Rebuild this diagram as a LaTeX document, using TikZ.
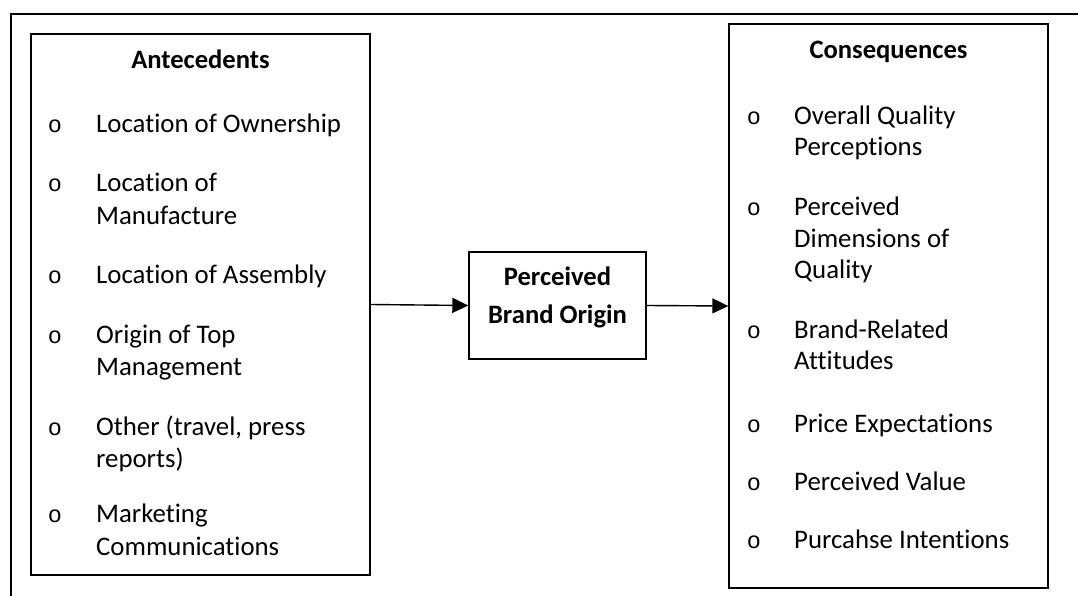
\documentclass[tikz,border=0pt]{standalone}
\usepackage{fontspec}
\setmainfont{Carlito}[Ligatures=CommonOff]
\newfontfamily\bulletfamily{Liberation Mono}
\usetikzlibrary{arrows.meta}

\begin{document}
\begin{tikzpicture}[x=1pt, y=-1pt,
  box/.style={draw, line width=1.4pt, rectangle, inner sep=0pt},
  txt/.style={anchor=base west, inner sep=0pt, font=\fontsize{26.8}{31}\selectfont},
  head/.style={anchor=base, inner sep=0pt, font=\fontsize{26.6}{31}\selectfont\bfseries},
  blt/.style={anchor=base, inner sep=0pt, font=\fontsize{23.5}{31}\bulletfamily},
  arr/.style={line width=1.4pt, -{Triangle[length=16pt, width=15pt]}},
  frame/.style={line width=1.6pt}]
  \useasboundingbox (0,0) rectangle (1078,596);

  % partial outer frame
  \coordinate (fbl) at (11,596);
  \coordinate (ftl) at (11,14);
  \coordinate (ftr) at (1078,14);
  \draw[frame] (fbl) -- (ftl) -- (ftr);

  % the three boxes
  \node[box, minimum width=339pt, minimum height=541pt] (ante) at (200.5,304.5) {};
  \node[box, minimum width=177pt, minimum height=107pt] (pbo) at (557.5,305.5) {};
  \node[box, minimum width=319pt, minimum height=564pt] (cons) at (888.5,306) {};

  % headings
  \node[head] (anteh) at (200.5,69) {Antecedents};
  \node[head] (consh) at (888.5,59) {Consequences};
  \node[head] (pbo1) at (557.5,285) {Perceived};
  \node[head] (pbo2) at (557.5,323) {Brand Origin};

  % antecedent items
  \foreach \y [count=\i] in {133,192,283,343,435,522}
    \node[blt] (ab\i) at (55,\y) {o};
  \foreach \y/\t [count=\i] in {133/{Location of Ownership}, 192/{Location of},
      224/{Manufacture}, 283/{Location of Assembly}, 343/{Origin of Top},
      375/{Management}, 435/{Other (travel, press}, 467/{reports)},
      522/{Marketing}, 555/{Communications}}
    \node[txt] (at\i) at (96,\y) {\t};

  % consequence items
  \foreach \y [count=\i] in {125,215,338,432,490,548}
    \node[blt] (cb\i) at (754,\y) {o};
  \foreach \y/\t [count=\i] in {125/{Overall Quality}, 156/{Perceptions},
      215/{Perceived}, 247/{Dimensions of}, 278/{Quality},
      338/{Brand-Related}, 369/{Attitudes}, 432/{Price Expectations},
      490/{Perceived Value}, 548/{Purcahse Intentions}}
    \node[txt] (ct\i) at (794,\y) {\t};

  % connectors
  \draw[arr] (ante.east) -- (pbo.west);
  \draw[arr] (pbo.east) -- (cons.west);
\end{tikzpicture}
\end{document}
